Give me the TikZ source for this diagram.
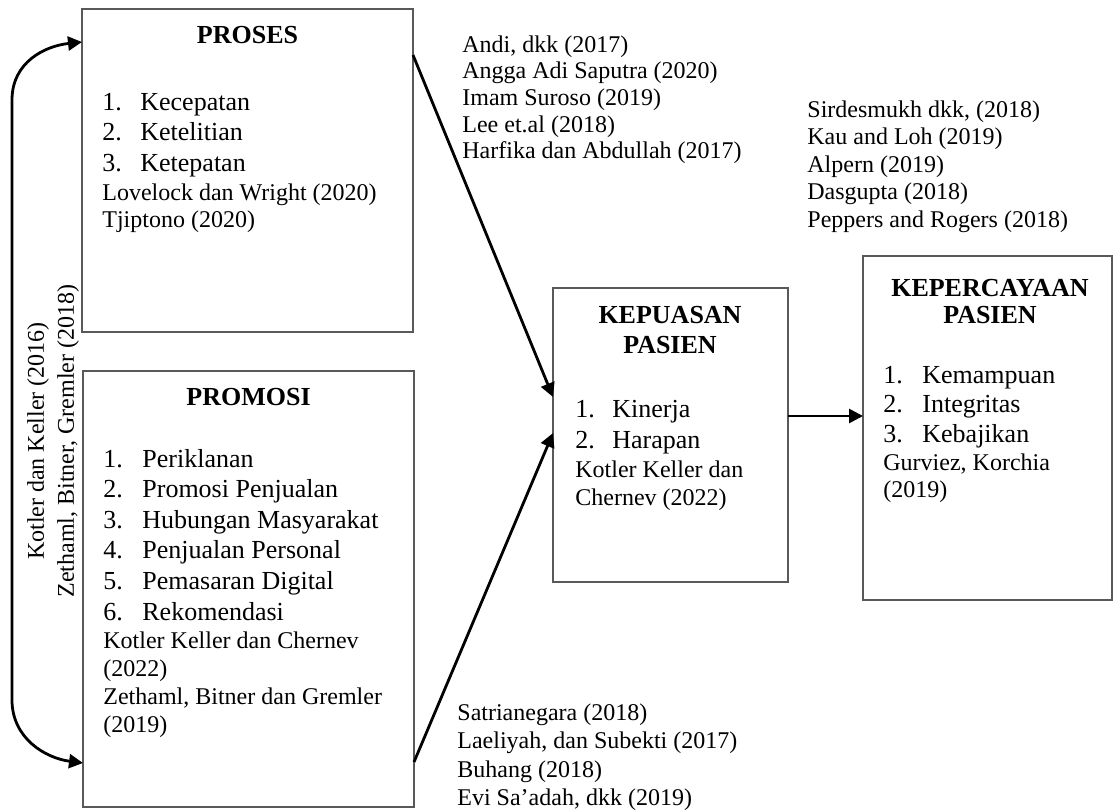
\documentclass[tikz,border=0pt]{standalone}
\usepackage{fontspec}
\setmainfont{Liberation Serif}
\usetikzlibrary{positioning, arrows.meta, calc}
\tikzset{
  kotak/.style={rectangle, draw=black!65, line width=0.6pt, anchor=north west, inner sep=0pt, outer sep=0pt},
  judul/.style={font=\fontsize{13}{15}\selectfont\bfseries, anchor=base, inner sep=0pt},
  butir/.style={font=\fontsize{13}{15}\selectfont, anchor=base west, inner sep=0pt},
  rujukan/.style={font=\fontsize{12}{14}\selectfont, anchor=base west, inner sep=0pt},
  arrow/.style={line width=1.4pt, -{Triangle[length=7pt, width=7pt]}}
}

\begin{document}
\begin{tikzpicture}[x=0.5pt, y=-0.5pt]
\useasboundingbox (0,0) rectangle (1113,809);

% kotak variabel
\node (proses) [kotak, minimum width=165.5pt, minimum height=161.5pt] at (82,9) {};
\node (promosi) [kotak, minimum width=165.5pt, minimum height=218pt] at (83,371) {};
\node (kepuasan) [kotak, minimum width=117.5pt, minimum height=147pt] at (553,288) {};
\node (kepercayaan) [kotak, minimum width=124.5pt, minimum height=172pt] at (863,256) {};

% isi PROSES
\node (judulProses) [judul] at (247.5,43) {PROSES};
\foreach \t [count=\i] in {Kecepatan, Ketelitian, Ketepatan}
  \node (proses-\i) [butir] at (102,{110+30.5*(\i-1)}) {\makebox[19pt][l]{\i.}\t};
\node (refProses1) [rujukan] at (102,200) {Lovelock dan Wright (2020)};
\node (refProses2) [rujukan] at (102,227) {Tjiptono (2020)};

% isi PROMOSI
\node (judulPromosi) [judul] at (248.5,405) {PROMOSI};
\foreach \t [count=\i] in {Periklanan, Promosi Penjualan, Hubungan Masyarakat, Penjualan Personal, Pemasaran Digital, Rekomendasi}
  \node (promosi-\i) [butir] at (103,{467+30.6*(\i-1)}) {\makebox[19.5pt][l]{\i.}\t};
\foreach \t [count=\i] in {Kotler Keller dan Chernev, (2022), {Zethaml, Bitner dan Gremler}, (2019)}
  \node (refPromosi-\i) [rujukan] at (103,{648+28*(\i-1)}) {\t};

% isi KEPUASAN PASIEN
\node (judulPuas1) [judul] at (670,323) {KEPUASAN};
\node (judulPuas2) [judul] at (670,353) {PASIEN};
\foreach \t [count=\i] in {Kinerja, Harapan}
  \node (puas-\i) [butir] at (575,{417+31*(\i-1)}) {\makebox[18.5pt][l]{\i.}\t};
\node (refPuas1) [rujukan] at (575,477) {Kotler Keller dan};
\node (refPuas2) [rujukan] at (575,505) {Chernev (2022)};

% isi KEPERCAYAAN PASIEN
\node (judulPercaya1) [judul] at (990,296) {KEPERCAYAAN};
\node (judulPercaya2) [judul] at (990,323) {PASIEN};
\foreach \t [count=\i] in {Kemampuan, Integritas, Kebajikan}
  \node (percaya-\i) [butir] at (883,{383+29.5*(\i-1)}) {\makebox[19.5pt][l]{\i.}\t};
\node (refPercaya1) [rujukan] at (883,470) {Gurviez, Korchia};
\node (refPercaya2) [rujukan] at (883,497) {(2019)};

% rujukan di luar kotak
\foreach \t [count=\i] in {{Andi, dkk (2017)}, Angga Adi Saputra (2020), Imam Suroso (2019), Lee et.al (2018), Harfika dan Abdullah (2017)}
  \node (refAtas-\i) [rujukan] at (462,{52+26.7*(\i-1)}) {\t};
\foreach \t [count=\i] in {{Sirdesmukh dkk, (2018)}, Kau and Loh (2019), Alpern (2019), Dasgupta (2018), Peppers and Rogers (2018)}
  \node (refKanan-\i) [rujukan] at (807,{117+27.5*(\i-1)}) {\t};
\foreach \t [count=\i] in {Satrianegara (2018), {Laeliyah, dan Subekti (2017)}, Buhang (2018), {Evi Sa’adah, dkk (2019)}}
  \node (refBawah-\i) [rujukan] at (457,{720+28.5*(\i-1)}) {\t};

% teks tegak di kiri
\node (refKiri) [font=\fontsize{12}{15}\selectfont, align=center, rotate=90, inner sep=0pt] at (53,441)
  {Kotler dan Keller (2016)\\Zethaml, Bitner, Gremler (2018)};

% panah
\coordinate (kiriAtas) at (12,100);
\coordinate (kiriBawah) at (12,700);
\draw [arrow, {Triangle[length=7pt, width=7pt]}-{Triangle[length=7pt, width=7pt]}]
  ($(proses.north west)+(0,33)$) .. controls (45,46) and (12,62) .. (kiriAtas)
  -- (kiriBawah) .. controls (12,738) and (45,758) .. ($(promosi.north west)+(0,392)$);
\draw [arrow] ($(proses.north east)+(0,46)$) -- ($(kepuasan.north west)+(0,109)$);
\draw [arrow] ($(promosi.north east)+(0,391)$) -- ($(kepuasan.north west)+(0,145)$);
\draw [arrow] ($(kepuasan.north east)+(0,128)$) coordinate (p) -- (p -| kepercayaan.west);
\end{tikzpicture}
\end{document}
